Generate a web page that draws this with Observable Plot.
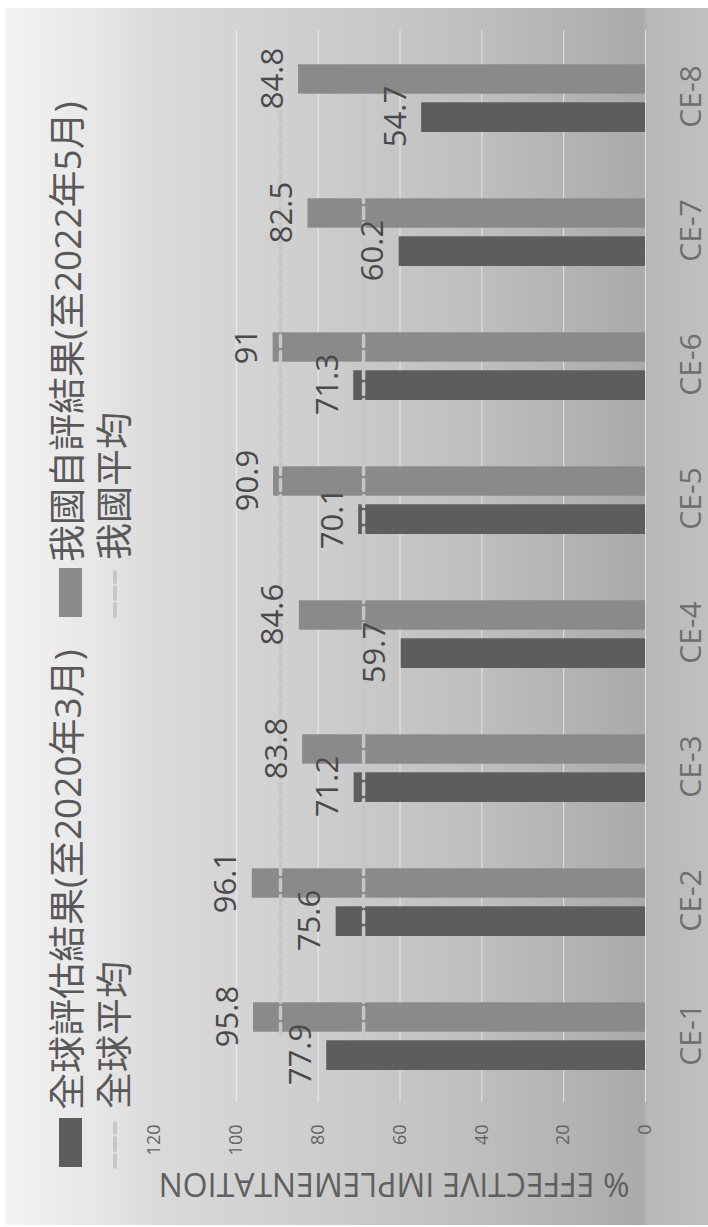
<!DOCTYPE html>
<html>
<head>
<meta charset="utf-8">
<script src="https://cdn.jsdelivr.net/npm/d3@7"></script>
<script src="https://cdn.jsdelivr.net/npm/@observablehq/plot@0.6"></script>
<style>
  html, body { margin: 0; padding: 0; background: white; overflow: hidden; }
  #page { position: relative; width: 708px; height: 1227px; }
  #chart {
    position: absolute; left: 0; top: 0; width: 1227px; height: 708px;
    transform-origin: 0 0; transform: translate(0px, 1227px) rotate(-90deg);
    background: white;
    font-family: "Open Sans", "Noto Sans CJK TC", sans-serif;
  }
  #bg {
    position: absolute; left: 2px; top: 5px; right: 8px; bottom: 0;
    background: linear-gradient(to bottom,
      #f3f3f3 0px, #e6e6e6 95px, #dadada 150px, #cfcfcf 295px,
      #bfbfbf 465px, #b0b0b0 590px, #aaaaaa 638px, #b8b8b8 643px, #c0c0c0 703px);
  }
  #legend { position: absolute; left: 0; top: 0; width: 1227px; height: 134px; }
  #legend .sw { position: absolute; width: 49px; height: 23px; top: 59px; }
  #legend .dash { position: absolute; top: 107px; }
  #legend .lt {
    position: absolute; font-size: 37px; line-height: 37px; color: #595959;
    white-space: nowrap; font-family: "Open Sans", "Noto Sans CJK TC", sans-serif;
  }
  #plot { position: absolute; left: 0; top: 134px; }
</style>
</head>
<body>
<div id="page">
  <div id="chart">
    <div id="bg"></div>
    <div id="legend"></div>
    <div id="plot"></div>
  </div>
</div>
<script>
// ---- data ----
const categories = ["CE-1", "CE-2", "CE-3", "CE-4", "CE-5", "CE-6", "CE-7", "CE-8"];
const globalValues = [77.9, 75.6, 71.2, 59.7, 70.1, 71.3, 60.2, 54.7];
const nationalValues = [95.8, 96.1, 83.8, 84.6, 90.9, 91, 82.5, 84.8];
const globalAvg = 68.9;
const nationalAvg = 89.2;
const yTickLabels = [0, 20, 40, 60, 80, 100, 120];
const gridValues = [0, 20, 40, 60, 80, 100];
const seriesNames = ["全球評估結果(至2020年3月)", "我國自評結果(至2022年5月)"];
const avgNames = ["全球平均", "我國平均"];
const axisTitle = "% EFFECTIVE IMPLEMENTATION";

const globalColor = "#5d5d5d";
const nationalColor = "#8a8a8a";
const avgColor = "#c6c6c6";

const globalRows = categories.map((c, i) => ({category: c, value: globalValues[i]}));
const nationalRows = categories.map((c, i) => ({category: c, value: nationalValues[i]}));

// ---- legend ----
const legend = document.getElementById("legend");
function addSwatch(left, color) {
  const s = document.createElement("span");
  s.className = "sw"; s.style.left = left + "px"; s.style.background = color;
  legend.appendChild(s);
}
function addDash(left) {
  const ns = "http://www.w3.org/2000/svg";
  const svg = document.createElementNS(ns, "svg");
  svg.setAttribute("class", "dash");
  svg.setAttribute("width", 48); svg.setAttribute("height", 16);
  svg.style.left = left + "px";
  const l = document.createElementNS(ns, "line");
  l.setAttribute("x1", 2); l.setAttribute("x2", 46); l.setAttribute("y1", 8); l.setAttribute("y2", 8);
  l.setAttribute("stroke", avgColor); l.setAttribute("stroke-width", 4);
  l.setAttribute("stroke-dasharray", "12,5"); l.setAttribute("stroke-linecap", "round");
  svg.appendChild(l);
  legend.appendChild(svg);
}
function addText(left, top, txt) {
  const t = document.createElement("span");
  t.className = "lt"; t.style.left = left + "px"; t.style.top = top + "px";
  t.textContent = txt;
  legend.appendChild(t);
}
addSwatch(60, globalColor);
addText(117, 48, seriesNames[0]);
addSwatch(610, nationalColor);
addText(665, 48, seriesNames[1]);
addDash(58);
addText(118, 95, avgNames[0]);
addDash(609);
addText(667, 95, avgNames[1]);

// ---- plot ----
const chart = Plot.plot({
  width: 1227,
  height: 574,
  marginTop: 20,
  marginBottom: 63,
  marginLeft: 125,
  marginRight: 30,
  style: {background: "transparent", fontFamily: "Open Sans, Noto Sans CJK TC, sans-serif", overflow: "visible"},
  x: {domain: categories, padding: 0, round: false, axis: null},
  y: {domain: [0, 120], axis: null},
  marks: [
    Plot.ruleY(gridValues, {stroke: "white", strokeOpacity: 0.6, strokeWidth: 1}),
    Plot.axisY({ticks: yTickLabels, tickSize: 0, tickPadding: 23, fontSize: 18, fill: "#636363", label: null}),
    Plot.axisX({tickSize: 0, tickPadding: 34, fontSize: 30, fill: "#6e6e6e", label: null}),
    Plot.text([axisTitle], {frameAnchor: "left", textAnchor: "middle", rotate: -90, dx: -71, dy: -6, lineAnchor: "bottom", fontSize: 32, fill: "#5f5f5f"}),
    Plot.barY(globalRows, {x: "category", y: "value", fill: globalColor, insetLeft: 32, insetRight: 72.3}),
    Plot.barY(nationalRows, {x: "category", y: "value", fill: nationalColor, insetLeft: 70.3, insetRight: 34.3}),
    Plot.lineY(categories, {x: d => d, y: () => nationalAvg, stroke: avgColor, strokeWidth: 3.5, strokeDasharray: "11,5"}),
    Plot.lineY(categories, {x: d => d, y: () => globalAvg, stroke: avgColor, strokeWidth: 3.5, strokeDasharray: "11,5"}),
    Plot.text(globalRows, {x: "category", y: "value", text: d => String(d.value), dx: -20, dy: -16, lineAnchor: "bottom", fontSize: 31, fill: "#4a4a4a"}),
    Plot.text(nationalRows, {x: "category", y: "value", text: d => String(d.value), dx: 18, dy: -16, lineAnchor: "bottom", fontSize: 31, fill: "#4a4a4a"})
  ]
});
document.getElementById("plot").appendChild(chart);
</script>
</body>
</html>
